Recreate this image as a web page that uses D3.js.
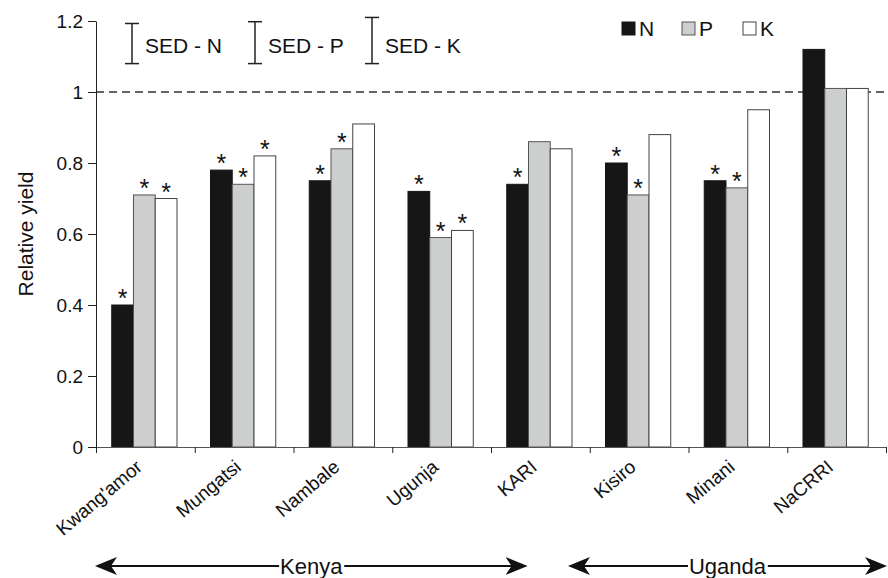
<!DOCTYPE html>
<html>
<head>
<meta charset="utf-8">
<script src="https://cdn.jsdelivr.net/npm/d3@7"></script>
<style>
  body { margin: 0; background: #fff; }
  svg { font-family: "Liberation Sans", Arial, Helvetica, sans-serif; }
</style>
</head>
<body>
<div id="chart"></div>
<script>
/* chart data */
var sites = ["Kwang'amor", "Mungatsi", "Nambale", "Ugunja", "KARI", "Kisiro", "Minani", "NaCRRI"];
var nValues = [0.40, 0.78, 0.75, 0.72, 0.74, 0.80, 0.75, 1.12];
var pValues = [0.71, 0.74, 0.84, 0.59, 0.86, 0.71, 0.73, 1.01];
var kValues = [0.70, 0.82, 0.91, 0.61, 0.84, 0.88, 0.95, 1.01];
/* significance stars */
var nStar = [true, true, true, true, true, true, true, false];
var pStar = [true, true, true, true, false, true, true, false];
var kStar = [true, true, false, true, false, false, false, false];
var yTicks = [0, 0.2, 0.4, 0.6, 0.8, 1, 1.2];
var sedLabels = ["SED - N", "SED - P", "SED - K"];
var sedValues = [0.113, 0.118, 0.13];
var countryNames = ["Kenya", "Uganda"];
var countryFrom = [0, 4.79];
var countryTo = [4.36, 8];

var width = 888,
    height = 578;
var margin = { top: 21, right: 2, bottom: 131, left: 96 };

var svg = d3.select("#chart")
    .append("svg")
    .attr("width", width)
    .attr("height", height);

/* scales */
var x = d3.scaleBand()
    .domain(sites)
    .range([margin.left, width - margin.right]);
var xi = d3.scaleLinear()
    .domain([0, sites.length])
    .range([margin.left, width - margin.right]);
var xg = d3.scaleBand()
    .domain(["N", "P", "K"])
    .range([0, x.bandwidth()])
    .paddingOuter(0.77)
    .align(0.47);
var y = d3.scaleLinear()
    .domain([0, 1.2])
    .range([height - margin.bottom, margin.top]);

var series = [
    { key: "N", values: nValues, stars: nStar, fill: "#161616", stroke: "#161616" },
    { key: "P", values: pValues, stars: pStar, fill: "#cdcfce", stroke: "#555" },
    { key: "K", values: kValues, stars: kStar, fill: "#ffffff", stroke: "#444" }
];

/* reference line at 1 */
svg.append("line")
    .attr("x1", margin.left).attr("x2", width - margin.right)
    .attr("y1", y(1)).attr("y2", y(1))
    .attr("stroke", "#333")
    .attr("stroke-width", 1.5)
    .attr("stroke-dasharray", "8,5");

/* bars */
series.forEach(function (s) {
    var g = svg.append("g");
    g.selectAll("rect")
        .data(sites)
        .enter()
        .append("rect")
        .attr("x", function (d) { return x(d) + xg(s.key); })
        .attr("y", function (d, i) { return y(s.values[i]); })
        .attr("width", xg.bandwidth())
        .attr("height", function (d, i) { return y(0) - y(s.values[i]); })
        .attr("fill", s.fill)
        .attr("stroke", s.stroke)
        .attr("stroke-width", 1);

    g.selectAll("text")
        .data(sites.filter(function (d, i) { return s.stars[i]; }))
        .enter()
        .append("text")
        .attr("x", function (d) { return x(d) + xg(s.key) + xg.bandwidth() / 2; })
        .attr("y", function (d) { return y(s.values[sites.indexOf(d)]) + 2; })
        .attr("text-anchor", "middle")
        .attr("font-size", 25)
        .attr("fill", "#111")
        .text("*");
});

/* y axis */
var yAxis = d3.axisLeft(y)
    .tickValues(yTicks)
    .tickSize(8)
    .tickSizeOuter(0)
    .tickFormat(d3.format("~g"));
var gy = svg.append("g")
    .attr("transform", "translate(" + margin.left + ",0)")
    .call(yAxis);
gy.selectAll("text").attr("font-size", 19).attr("fill", "#111").attr("x", -13);
gy.selectAll("line, path").attr("stroke", "#222");

/* x axis, ticks between sites */
var xAxis = d3.axisBottom(xi)
    .tickValues(d3.range(sites.length + 1))
    .tickSize(6)
    .tickSizeOuter(0)
    .tickFormat("");
var gx = svg.append("g")
    .attr("transform", "translate(0," + y(0) + ")")
    .call(xAxis);
gx.selectAll("line").attr("stroke", "#222");
gx.select("path").attr("stroke", "#555");

/* site labels */
svg.append("g").selectAll("text")
    .data(sites)
    .enter()
    .append("text")
    .attr("transform", function (d) {
        return "translate(" + (x(d) + x.bandwidth() / 2 - 2) + "," + (y(0) + 22) + ") rotate(-40)";
    })
    .attr("text-anchor", "end")
    .attr("font-size", 19)
    .attr("fill", "#111")
    .text(function (d) { return d; });

/* y axis title */
svg.append("text")
    .attr("transform", "translate(33," + y(0.6) + ") rotate(-90)")
    .attr("text-anchor", "middle")
    .attr("font-size", 21)
    .attr("fill", "#111")
    .text("Relative yield");

/* SED bars */
var sedX = [132, 255, 372];
var sedBottom = 1.08;
sedLabels.forEach(function (lab, i) {
    var g = svg.append("g").attr("stroke", "#222").attr("stroke-width", 1.5);
    var top = y(sedBottom + sedValues[i]), bot = y(sedBottom);
    g.append("line").attr("x1", sedX[i]).attr("x2", sedX[i]).attr("y1", top).attr("y2", bot);
    g.append("line").attr("x1", sedX[i] - 7).attr("x2", sedX[i] + 7).attr("y1", top).attr("y2", top);
    g.append("line").attr("x1", sedX[i] - 7).attr("x2", sedX[i] + 7).attr("y1", bot).attr("y2", bot);
    svg.append("text")
        .attr("x", sedX[i] + 13)
        .attr("y", 53)
        .attr("font-size", 21)
        .attr("fill", "#111")
        .text(lab);
});

/* legend */
var legX = [622, 682, 743];
series.forEach(function (s, i) {
    svg.append("rect")
        .attr("x", legX[i]).attr("y", 22)
        .attr("width", 13).attr("height", 13)
        .attr("fill", s.fill)
        .attr("stroke", s.stroke);
    svg.append("text")
        .attr("x", legX[i] + 17).attr("y", 36)
        .attr("font-size", 21)
        .attr("fill", "#111")
        .text(s.key);
});

/* country arrows */
var arrowY = 566;
svg.append("defs").append("marker")
    .attr("id", "head")
    .attr("viewBox", "0 0 22 18")
    .attr("refX", 20).attr("refY", 9)
    .attr("markerWidth", 22).attr("markerHeight", 18)
    .attr("markerUnits", "userSpaceOnUse")
    .attr("orient", "auto-start-reverse")
    .append("path")
    .attr("d", "M0,0 L22,9 L0,18 L6,9 Z")
    .attr("fill", "#111");

countryNames.forEach(function (name, i) {
    var g = svg.append("g");
    g.append("line")
        .attr("x1", xi(countryFrom[i]) + 1).attr("x2", xi(countryTo[i]) - 1)
        .attr("y1", arrowY).attr("y2", arrowY)
        .attr("stroke", "#111")
        .attr("stroke-width", 2)
        .attr("marker-start", "url(#head)")
        .attr("marker-end", "url(#head)");
    var bg = g.append("rect").attr("fill", "#fff");
    var t = g.append("text")
        .attr("x", (xi(countryFrom[i]) + xi(countryTo[i])) / 2)
        .attr("y", arrowY + 8)
        .attr("text-anchor", "middle")
        .attr("font-size", 22)
        .attr("fill", "#111")
        .text(name);
    var bb = t.node().getBBox();
    bg.attr("x", bb.x - 1).attr("y", arrowY - 3)
        .attr("width", bb.width + 2).attr("height", 6);
});
</script>
</body>
</html>
